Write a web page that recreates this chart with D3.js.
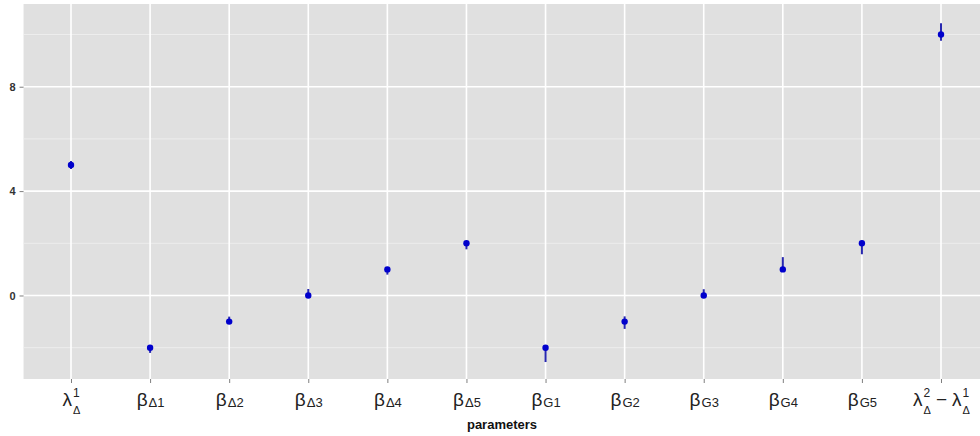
<!DOCTYPE html>
<html>
<head>
<meta charset="utf-8">
<script src="https://cdn.jsdelivr.net/npm/d3@7"></script>
<style>
  body { margin: 0; background: #fff; }
  svg { display: block; font-family: "Liberation Sans", Arial, sans-serif; }
</style>
</head>
<body>
<svg id="chart" width="980" height="436"></svg>
<script>
// parameter names: base letter, subscript, superscript (one or two parts per label)
const categories = ["l1", "bD1", "bD2", "bD3", "bD4", "bD5", "bG1", "bG2", "bG3", "bG4", "bG5", "l21"];
const tickLabels = [
  [{ b: "λ", sub: "Δ", sup: "1" }],
  [{ b: "β", sub: "Δ1" }],
  [{ b: "β", sub: "Δ2" }],
  [{ b: "β", sub: "Δ3" }],
  [{ b: "β", sub: "Δ4" }],
  [{ b: "β", sub: "Δ5" }],
  [{ b: "β", sub: "G1" }],
  [{ b: "β", sub: "G2" }],
  [{ b: "β", sub: "G3" }],
  [{ b: "β", sub: "G4" }],
  [{ b: "β", sub: "G5" }],
  [{ b: "λ", sub: "Δ", sup: "2" }, { b: "−", op: true }, { b: "λ", sub: "Δ", sup: "1" }]
];
const estimates = [5, -2, -1, 0, 1, 2, -2, -1, 0, 1, 2, 10];
const lower = [4.85, -2.2, -1.05, -0.05, 0.8, 1.77, -2.55, -1.28, -0.02, 0.98, 1.58, 9.76];
const upper = [5.15, -1.95, -0.81, 0.25, 1.05, 2.05, -1.95, -0.8, 0.24, 1.47, 2.1, 10.43];
const yTicks = [0, 4, 8];
const yMinor = [-2, 2, 6, 10];

const svg = d3.select("#chart");

const x = d3.scalePoint()
  .domain(categories)
  .range([71, 941]);
const step = x.step();

const y = d3.scaleLinear()
  .domain([-3.2, 11.17])
  .range([379, 4]);

const panelLeft = x(categories[0]) - 0.6 * step;
const panelRight = x(categories[categories.length - 1]) + 0.6 * step;

// grey panel
svg.append("rect")
  .attr("x", panelLeft)
  .attr("y", y.range()[1])
  .attr("width", panelRight - panelLeft)
  .attr("height", y.range()[0] - y.range()[1])
  .attr("fill", "#e0e0e0");

// minor grid
svg.selectAll(".minor")
  .data(yMinor)
  .enter().append("line")
  .attr("x1", panelLeft).attr("x2", panelRight)
  .attr("y1", d => y(d)).attr("y2", d => y(d))
  .attr("stroke", "#f0f0f0")
  .attr("stroke-width", 0.8);

// major grid
svg.selectAll(".majorY")
  .data(yTicks)
  .enter().append("line")
  .attr("x1", panelLeft).attr("x2", panelRight)
  .attr("y1", d => y(d)).attr("y2", d => y(d))
  .attr("stroke", "#ffffff")
  .attr("stroke-width", 1.6);

svg.selectAll(".majorX")
  .data(categories)
  .enter().append("line")
  .attr("x1", d => x(d)).attr("x2", d => x(d))
  .attr("y1", y.range()[1]).attr("y2", y.range()[0])
  .attr("stroke", "#ffffff")
  .attr("stroke-width", 1.6);

// y axis
const yAxis = svg.append("g")
  .attr("transform", `translate(${panelLeft},0)`)
  .call(d3.axisLeft(y).tickValues(yTicks).tickSize(4).tickPadding(4));
yAxis.select(".domain").remove();
yAxis.selectAll(".tick line").attr("stroke", "#7f7f7f");
yAxis.selectAll(".tick text")
  .attr("fill", "#333")
  .style("font-size", "11px")
  .style("font-weight", "bold");

// x axis (tick marks only, labels drawn below)
const xAxis = svg.append("g")
  .attr("transform", `translate(0,${y.range()[0]})`)
  .call(d3.axisBottom(x).tickSize(4).tickFormat(""));
xAxis.select(".domain").remove();
xAxis.selectAll(".tick line").attr("stroke", "#7f7f7f");

// math-like tick labels: one text per label, tspans for sub/superscripts
xAxis.selectAll(".tick").each(function (d, i) {
  const t = d3.select(this).append("text")
    .attr("x", 0).attr("y", 27)
    .attr("text-anchor", "middle")
    .attr("fill", "#222")
    .style("font-size", "19px");
  let gap = 0;
  let backDy = 0; // return to baseline after scripts
  tickLabels[i].forEach(part => {
    const base = t.append("tspan").text(part.b);
    if (part.op) gap = 5;
    if (gap) base.attr("dx", gap);
    if (backDy) base.attr("dy", backDy);
    gap = part.op ? 5 : 0;
    backDy = 0;
    if (part.sup) {
      t.append("tspan").attr("dx", 1).attr("dy", -9)
        .style("font-size", "12px").text(part.sup);
      t.append("tspan").attr("dx", -6.7).attr("dy", 17)
        .style("font-size", "11px").text(part.sub);
      backDy = -8;
    } else if (part.sub) {
      t.append("tspan").attr("dx", 1).attr("dy", 1)
        .style("font-size", "13px").text(part.sub);
      backDy = -1;
    }
  });
});

// axis title
svg.append("text")
  .attr("x", (panelLeft + panelRight) / 2 - 4)
  .attr("y", 429)
  .attr("text-anchor", "middle")
  .attr("fill", "#111")
  .style("font-size", "13px")
  .style("font-weight", "bold")
  .text("parameters");

// error bars
svg.selectAll(".err")
  .data(categories)
  .enter().append("line")
  .attr("x1", d => x(d)).attr("x2", d => x(d))
  .attr("y1", (d, i) => y(lower[i]))
  .attr("y2", (d, i) => y(upper[i]))
  .attr("stroke", "#2828b0")
  .attr("stroke-width", 2);

// points
svg.selectAll(".pt")
  .data(categories)
  .enter().append("circle")
  .attr("cx", d => x(d))
  .attr("cy", (d, i) => y(estimates[i]))
  .attr("r", 3.2)
  .attr("fill", "#0000cc");
</script>
</body>
</html>
